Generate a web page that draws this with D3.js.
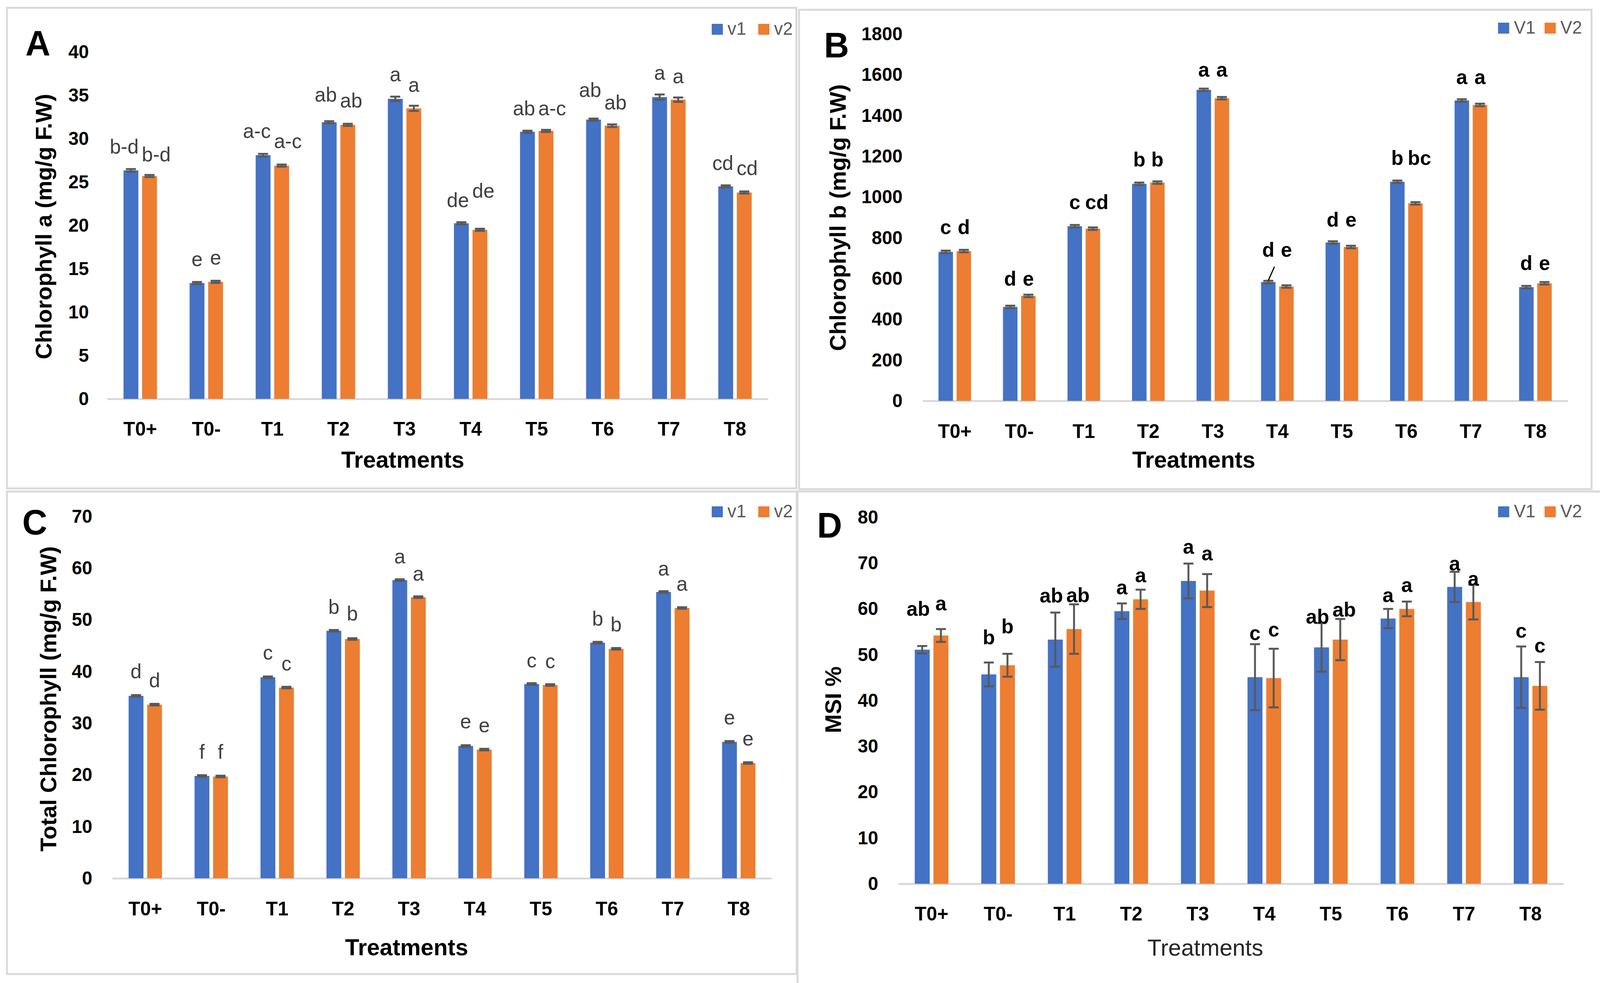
<!DOCTYPE html>
<html>
<head>
<meta charset="utf-8">
<script src="https://cdn.jsdelivr.net/npm/d3@7"></script>
<style>
  html, body { margin: 0; padding: 0; background: #fff; overflow: hidden; width: 100%; height: 100%; }
  #wrapper { width: 100vw; height: 100vh; }
  text { font-family: "Liberation Sans", Arial, sans-serif; }
</style>
</head>
<body>
<div id="wrapper"></div>
<script>
// Categories
const treatments = ["T0+", "T0-", "T1", "T2", "T3", "T4", "T5", "T6", "T7", "T8"];

// A - Chlorophyll a
const chlA_v1 = [26.35, 13.36, 28.1, 31.9, 34.6, 20.25, 30.8, 32.2, 34.8, 24.5];
const chlA_v2 = [25.7, 13.5, 26.9, 31.6, 33.5, 19.5, 30.9, 31.5, 34.5, 23.8];
const chlA_err_v1 = [0.15, 0.12, 0.15, 0.12, 0.25, 0.12, 0.12, 0.12, 0.3, 0.12];
const chlA_err_v2 = [0.12, 0.12, 0.12, 0.12, 0.3, 0.12, 0.12, 0.15, 0.25, 0.12];
const chlA_let_v1 = ["b-d", "e", "a-c", "ab", "a", "de", "ab", "ab", "a", "cd"];
const chlA_let_v2 = ["b-d", "e", "a-c", "ab", "a", "de", "a-c", "ab", "a", "cd"];
const chlA_letAt_v1 = [28.3, 15.3, 30.1, 34.3, 36.6, 22.1, 32.7, 34.8, 36.8, 26.4];
const chlA_letAt_v2 = [27.4, 15.5, 28.9, 33.6, 35.4, 23.2, 32.7, 33.4, 36.4, 25.8];
const chlA_ticks = [0, 5, 10, 15, 20, 25, 30, 35, 40];

// B - Chlorophyll b
const chlB_v1 = [731, 461, 857, 1065, 1526, 583, 777, 1075, 1474, 558];
const chlB_v2 = [735, 515, 845, 1071, 1485, 561, 755, 969, 1452, 577];
const chlB_err_v1 = [6, 6, 6, 6, 6, 6, 6, 6, 6, 6];
const chlB_err_v2 = [6, 6, 6, 6, 6, 6, 6, 6, 6, 6];
const chlB_let_v1 = ["c", "d", "c", "b", "a", "d", "d", "b", "a", "d"];
const chlB_let_v2 = ["d", "e", "cd", "b", "a", "e", "e", "bc", "a", "e"];
const chlB_letAt_v1 = [818, 566, 941, 1151, 1592, 708, 854, 1158, 1554, 643];
const chlB_letAt_v2 = [818, 566, 941, 1151, 1592, 708, 854, 1158, 1554, 643];
const chlB_ticks = [0, 200, 400, 600, 800, 1000, 1200, 1400, 1600, 1800];

// C - Total chlorophyll
const chlT_v1 = [35.3, 19.8, 38.9, 47.9, 57.7, 25.6, 37.6, 45.6, 55.4, 26.4];
const chlT_v2 = [33.6, 19.7, 36.9, 46.3, 54.4, 24.9, 37.4, 44.4, 52.3, 22.3];
const chlT_err_v1 = [0.15, 0.15, 0.15, 0.15, 0.15, 0.15, 0.15, 0.15, 0.15, 0.15];
const chlT_err_v2 = [0.15, 0.15, 0.15, 0.15, 0.15, 0.15, 0.15, 0.15, 0.15, 0.15];
const chlT_let_v1 = ["d", "f", "c", "b", "a", "e", "c", "b", "a", "e"];
const chlT_let_v2 = ["d", "f", "c", "b", "a", "e", "c", "b", "a", "e"];
const chlT_letAt_v1 = [38.7, 23.1, 42.3, 51.2, 60.9, 29.0, 40.8, 48.9, 58.6, 29.8];
const chlT_letAt_v2 = [37.0, 23.1, 40.2, 49.9, 57.6, 28.3, 40.7, 47.8, 55.6, 25.7];
const chlT_ticks = [0, 10, 20, 30, 40, 50, 60, 70];

// D - MSI %
const msi_v1 = [51.1, 45.7, 53.3, 59.5, 66.1, 45.1, 51.6, 57.9, 64.8, 45.1];
const msi_v2 = [54.2, 47.7, 55.6, 62.1, 64.0, 44.9, 53.3, 60.0, 61.5, 43.2];
const msi_err_v1 = [0.8, 2.6, 5.9, 1.7, 3.8, 7.2, 5.3, 2.1, 3.3, 6.7];
const msi_err_v2 = [1.4, 2.5, 5.4, 2.1, 3.6, 6.4, 4.5, 1.6, 3.8, 5.2];
const msi_let_v1 = ["ab", "b", "ab", "a", "a", "c", "ab", "a", "a", "c"];
const msi_let_v2 = ["a", "b", "ab", "a", "a", "c", "ab", "a", "a", "c"];
const msi_letAt_v1 = [58.5, 52.3, 61.4, 63.2, 72.1, 53.2, 56.8, 61.5, 68.4, 53.7];
const msi_letAt_v2 = [59.7, 54.7, 61.5, 65.8, 70.6, 54.0, 58.3, 63.7, 65.1, 50.5];
const msi_ticks = [0, 10, 20, 30, 40, 50, 60, 70, 80];

const seriesKeys = ["v1", "v2"];
const colors = { v1: "#4472c4", v2: "#ed7d31" };

// Panel layout
const panels = [
  {
    tag: "A", box: [18, 20, 2070, 1250], x0: 278.6, x1: 1996.4, yBase: 1021, yTop: 133, max: 40,
    ticks: chlA_ticks, v1: chlA_v1, v2: chlA_v2, e1: chlA_err_v1, e2: chlA_err_v2,
    l1: chlA_let_v1, l2: chlA_let_v2, la1: chlA_letAt_v1, la2: chlA_letAt_v2,
    title: "Chlorophyll a (mg/g F.W)", titleX: 134, titleY: 580,
    tagX: 66, tagY: 142, tickRight: 231, xTickY: 1115, xTitleX: 1047, xTitleY: 1197, xTitleBold: true,
    legendX: 1850, legendY: 61, legendNames: ["v1", "v2"], boldLetters: false
  },
  {
    tag: "B", box: [2077, 25, 4137, 1252], x0: 2398, x1: 4075, yBase: 1026, yTop: 87, max: 1800,
    ticks: chlB_ticks, v1: chlB_v1, v2: chlB_v2, e1: chlB_err_v1, e2: chlB_err_v2,
    l1: chlB_let_v1, l2: chlB_let_v2, la1: chlB_letAt_v1, la2: chlB_letAt_v2,
    title: "Chlorophyll b (mg/g F.W)", titleX: 2198, titleY: 557,
    tagX: 2142, tagY: 147, tickRight: 2346, xTickY: 1121, xTitleX: 3103, xTitleY: 1197, xTitleBold: true,
    legendX: 3894, legendY: 58, legendNames: ["V1", "V2"], boldLetters: true
  },
  {
    tag: "C", box: [18, 1258, 2071, 2493], x0: 292, x1: 2006, yBase: 2248, yTop: 1322, max: 70,
    ticks: chlT_ticks, v1: chlT_v1, v2: chlT_v2, e1: chlT_err_v1, e2: chlT_err_v2,
    l1: chlT_let_v1, l2: chlT_let_v2, la1: chlT_letAt_v1, la2: chlT_letAt_v2,
    title: "Total Chlorophyll (mg/g F.W)", titleX: 146, titleY: 1789,
    tagX: 58, tagY: 1368, tickRight: 240, xTickY: 2343, xTitleX: 1057, xTitleY: 2445, xTitleBold: true,
    legendX: 1850, legendY: 1296, legendNames: ["v1", "v2"], boldLetters: false
  },
  {
    // frame runs past the right and bottom edges of the figure
    tag: "D", box: [2073, 1258, 4190, 2550], x0: 2335, x1: 4065, yBase: 2262, yTop: 1324, max: 80,
    ticks: msi_ticks, v1: msi_v1, v2: msi_v2, e1: msi_err_v1, e2: msi_err_v2,
    l1: msi_let_v1, l2: msi_let_v2, la1: msi_letAt_v1, la2: msi_letAt_v2,
    title: "MSI %", titleX: 2186, titleY: 1791,
    tagX: 2124, tagY: 1376, tickRight: 2283, xTickY: 2356, xTitleX: 3133, xTitleY: 2446, xTitleBold: false,
    legendX: 3894, legendY: 1296, legendNames: ["V1", "V2"], boldLetters: true
  }
];

// Draw canvas (viewBox so the whole figure fits the window exactly)
const svg = d3.select("#wrapper")
  .append("svg")
  .attr("viewBox", "0 0 4159 2516")
  .attr("preserveAspectRatio", "none")
  .attr("width", "100%")
  .attr("height", "100%")
  .style("display", "block")
  .style("background", "#fff");

function drawPanel(p) {
  const g = svg.append("g");

  // frame
  if (p.box) {
    g.append("rect")
      .attr("x", p.box[0]).attr("y", p.box[1])
      .attr("width", p.box[2] - p.box[0]).attr("height", p.box[3] - p.box[1])
      .attr("fill", "none").attr("stroke", "#d9d9d9").attr("stroke-width", 5);
  }

  // scales
  const xScale = d3.scaleBand().domain(treatments).range([p.x0, p.x1]);
  const sScale = d3.scaleBand().domain(seriesKeys)
    .range([0, xScale.bandwidth()]).paddingInner(0.2).paddingOuter(0.88);
  const yScale = d3.scaleLinear().domain([0, p.max]).range([p.yBase, p.yTop]);

  // y axis
  const yAxis = g.append("g")
    .attr("transform", `translate(${p.tickRight},0)`)
    .call(d3.axisLeft(yScale).tickValues(p.ticks).tickFormat(d3.format("d")).tickSize(0).tickPadding(0));
  yAxis.select(".domain").remove();
  yAxis.selectAll("text")
    .style("font-size", "48px").style("font-weight", "bold").attr("fill", "#000");

  // x axis (baseline)
  const xAxis = g.append("g")
    .attr("transform", `translate(0,${p.yBase})`)
    .call(d3.axisBottom(xScale).tickSize(0).tickSizeOuter(0));
  xAxis.select(".domain").attr("stroke", "#d9d9d9").attr("stroke-width", 5);
  xAxis.selectAll("text")
    .attr("y", p.xTickY - p.yBase).attr("dy", null)
    .style("font-size", "50px").style("font-weight", "bold").attr("fill", "#000");

  // bars
  const rows = treatments.map((t, i) => ({
    t,
    v1: p.v1[i], v2: p.v2[i], e1: p.e1[i], e2: p.e2[i],
    l1: p.l1[i], l2: p.l2[i], la1: p.la1[i], la2: p.la2[i]
  }));
  const cx = (d, k) => xScale(d.t) + sScale(k) + sScale.bandwidth() / 2;

  seriesKeys.forEach((k, si) => {
    const vk = si === 0 ? "v1" : "v2";
    const ek = si === 0 ? "e1" : "e2";
    const lk = si === 0 ? "l1" : "l2";
    const lak = si === 0 ? "la1" : "la2";

    g.append("g").selectAll("rect").data(rows).join("rect")
      .attr("x", d => xScale(d.t) + sScale(k))
      .attr("width", sScale.bandwidth())
      .attr("y", d => yScale(d[vk]))
      .attr("height", d => p.yBase - yScale(d[vk]))
      .attr("fill", colors[k]);

    // error bars
    const eg = g.append("g").attr("stroke", "#595959").attr("stroke-width", 5);
    eg.selectAll(".stem").data(rows).join("line")
      .attr("x1", d => cx(d, k)).attr("x2", d => cx(d, k))
      .attr("y1", d => yScale(d[vk] - d[ek])).attr("y2", d => yScale(d[vk] + d[ek]));
    [-1, 1].forEach(s => {
      eg.append("g").selectAll("line").data(rows).join("line")
        .attr("x1", d => cx(d, k) - 13).attr("x2", d => cx(d, k) + 13)
        .attr("y1", d => yScale(d[vk] + s * d[ek])).attr("y2", d => yScale(d[vk] + s * d[ek]));
    });

    // significance letters
    g.append("g").selectAll("text").data(rows).join("text")
      .attr("x", d => cx(d, k))
      .attr("y", d => yScale(d[lak]))
      .attr("text-anchor", "middle")
      .style("font-size", "52px")
      .style("font-weight", p.boldLetters ? "bold" : "normal")
      .attr("fill", p.boldLetters ? "#000" : "#404040")
      .text(d => d[lk])
      .attr("dx", function () {
        const w = this.getComputedTextLength();
        const shift = Math.max(0, (w - 40) / 2);
        return si === 0 ? -shift : shift;
      });
  });

  // leader line in B (T4 v1 label)
  if (p.tag === "B") {
    const d = rows[5];
    g.append("line")
      .attr("x1", cx(d, "v1") + 16).attr("y1", yScale(d.la1) + 26)
      .attr("x2", cx(d, "v1")).attr("y2", yScale(d.v1) - 4)
      .attr("stroke", "#000").attr("stroke-width", 3);
  }

  // y title
  g.append("text")
    .attr("transform", `translate(${p.titleX},${p.titleY}) rotate(-90)`)
    .attr("text-anchor", "middle")
    .style("font-size", "58px").style("font-weight", "bold")
    .attr("fill", "#000")
    .text(p.title);

  // x title
  g.append("text")
    .attr("x", p.xTitleX).attr("y", p.xTitleY)
    .attr("text-anchor", "middle")
    .style("font-size", "60px").style("font-weight", p.xTitleBold ? "bold" : "normal")
    .attr("fill", p.xTitleBold ? "#000" : "#262626")
    .text("Treatments");

  // panel tag
  g.append("text")
    .attr("x", p.tagX).attr("y", p.tagY)
    .style("font-size", "90px").style("font-weight", "bold")
    .attr("fill", "#000")
    .text(p.tag);

  // legend
  const lg = g.append("g").attr("transform", `translate(${p.legendX},${p.legendY})`);
  seriesKeys.forEach((k, i) => {
    lg.append("rect")
      .attr("x", i * 121).attr("y", 0).attr("width", 29).attr("height", 28)
      .attr("fill", colors[k]);
    lg.append("text")
      .attr("x", i * 121 + 41).attr("y", 28)
      .style("font-size", "46px")
      .attr("fill", "#595959")
      .text(p.legendNames[i]);
  });
}

panels.forEach(drawPanel);
</script>
</body>
</html>
